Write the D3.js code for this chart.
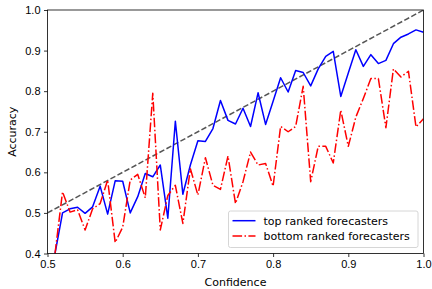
<!DOCTYPE html>
<html>
<head>
<meta charset="utf-8">
<script src="https://cdn.jsdelivr.net/npm/d3@7"></script>
<style>
  body { margin: 0; background: #fff; }
  svg { display: block; font-family: "DejaVu Sans", sans-serif; }
  .tick text { font-size: 11px; fill: #000; }
  .tick line, .domain { stroke: #000; stroke-width: 0.8; }
</style>
</head>
<body>
<div id="chart"></div>
<script>
// confidence bins 0.51 .. 1.00
var confidence = [0.51,0.52,0.53,0.54,0.55,0.56,0.57,0.58,0.59,0.60,
  0.61,0.62,0.63,0.64,0.65,0.66,0.67,0.68,0.69,0.70,
  0.71,0.72,0.73,0.74,0.75,0.76,0.77,0.78,0.79,0.80,
  0.81,0.82,0.83,0.84,0.85,0.86,0.87,0.88,0.89,0.90,
  0.91,0.92,0.93,0.94,0.95,0.96,0.97,0.98,0.99,1.00];

var topRanked = [0.40,0.50,0.51,0.514,0.499,0.515,0.566,0.497,0.579,0.578,
  0.50,0.54,0.597,0.589,0.618,0.487,0.726,0.546,0.618,0.678,
  0.676,0.708,0.777,0.728,0.719,0.758,0.713,0.796,0.718,0.775,
  0.833,0.798,0.851,0.846,0.813,0.855,0.886,0.898,0.787,0.845,
  0.902,0.861,0.890,0.868,0.876,0.917,0.933,0.941,0.951,0.945];

var bottomRanked = [0.40,0.552,0.502,0.508,0.458,0.51,0.523,0.581,0.427,0.465,
  0.581,0.595,0.537,0.795,0.458,0.543,0.568,0.474,0.609,0.544,
  0.636,0.568,0.558,0.640,0.523,0.577,0.650,0.618,0.622,0.566,
  0.713,0.700,0.713,0.812,0.577,0.664,0.664,0.623,0.753,0.664,
  0.736,0.782,0.831,0.831,0.710,0.855,0.835,0.849,0.712,0.732];

var xTicks = [0.5,0.6,0.7,0.8,0.9,1.0];
var yTicks = [0.4,0.5,0.6,0.7,0.8,0.9,1.0];

var width = 432, height = 289;
var margin = {top: 10, right: 8.5, bottom: 35.5, left: 47.5};
var w = width - margin.left - margin.right,
    h = height - margin.top - margin.bottom;

var svg = d3.select("#chart").append("svg")
  .attr("width", width)
  .attr("height", height);

var g = svg.append("g")
  .attr("transform", "translate(" + margin.left + "," + margin.top + ")");

var x = d3.scaleLinear().domain([0.5, 1.0]).range([0, w]);
var y = d3.scaleLinear().domain([0.4, 1.0]).range([h, 0]);

g.append("clipPath").attr("id", "clip")
  .append("rect").attr("width", w).attr("height", h);

var plot = g.append("g").attr("clip-path", "url(#clip)");

// perfect calibration
plot.append("line")
  .attr("x1", x(0.5)).attr("y1", y(0.5))
  .attr("x2", x(1.0)).attr("y2", y(1.0))
  .attr("stroke", "#555")
  .attr("stroke-width", 1.5)
  .attr("stroke-dasharray", "5.55,2.4");

var line = function(vals) {
  return d3.line()
    .x(function(d, i) { return x(confidence[i]); })
    .y(function(d) { return y(d); })(vals);
};

plot.append("path")
  .attr("d", line(topRanked))
  .attr("fill", "none")
  .attr("stroke", "#0000ff")
  .attr("stroke-width", 1.5)
  .attr("stroke-linejoin", "round");

plot.append("path")
  .attr("d", line(bottomRanked))
  .attr("fill", "none")
  .attr("stroke", "#ff0000")
  .attr("stroke-width", 1.5)
  .attr("stroke-linejoin", "round")
  .attr("stroke-dasharray", "9.6,2.4,1.5,2.4");

// axes
g.append("g")
  .attr("transform", "translate(0," + h + ")")
  .call(d3.axisBottom(x).tickValues(xTicks).tickFormat(d3.format(".1f")).tickSize(3.5).tickPadding(3.5))
  .call(function(a) { a.select(".domain").remove(); });

g.append("g")
  .call(d3.axisLeft(y).tickValues(yTicks).tickFormat(d3.format(".1f")).tickSize(3.5).tickPadding(3.5))
  .call(function(a) { a.select(".domain").remove(); });

g.append("rect")
  .attr("width", w).attr("height", h)
  .attr("fill", "none")
  .attr("stroke", "#000")
  .attr("stroke-width", 0.8);

svg.append("text")
  .attr("x", margin.left + w / 2)
  .attr("y", 285.5)
  .attr("text-anchor", "middle")
  .style("font-size", "11px")
  .text("Confidence");

svg.append("text")
  .attr("transform", "translate(15.5," + (margin.top + h / 2) + ") rotate(-90)")
  .attr("text-anchor", "middle")
  .style("font-size", "11px")
  .text("Accuracy");

// legend
var legend = svg.append("g");
legend.append("rect")
  .attr("x", 228.5).attr("y", 211)
  .attr("width", 189.5).attr("height", 36.5)
  .attr("rx", 2)
  .attr("fill", "#fff").attr("fill-opacity", 0.8)
  .attr("stroke", "#ccc").attr("stroke-width", 0.8);

var entries = [
  {label: "top ranked forecasters", color: "#0000ff", dash: null},
  {label: "bottom ranked forecasters", color: "#ff0000", dash: "9.6,2.4,1.5,2.4"}
];
entries.forEach(function(e, i) {
  var cy = 220.7 + i * 15.3;
  legend.append("line")
    .attr("x1", 232.5).attr("x2", 255.5)
    .attr("y1", cy).attr("y2", cy)
    .attr("stroke", e.color)
    .attr("stroke-width", 1.5)
    .attr("stroke-dasharray", e.dash);
  legend.append("text")
    .attr("x", 263.5).attr("y", cy + 4)
    .style("font-size", "11px")
    .text(e.label);
});
</script>
</body>
</html>
